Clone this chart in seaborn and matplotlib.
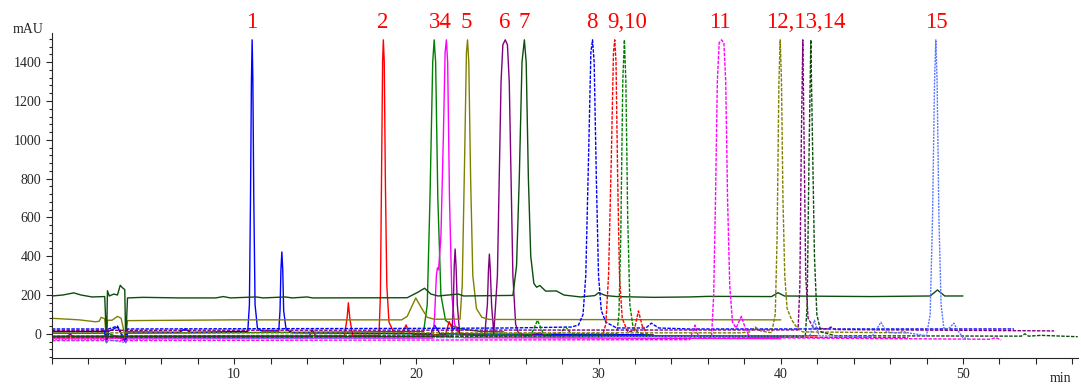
import numpy as np
import pandas as pd
import matplotlib
matplotlib.use("Agg")
import matplotlib.pyplot as plt
import seaborn as sns
from matplotlib.ticker import MultipleLocator

# --- chromatogram traces: retention time (min) / absorbance (mAU) vertices ---
t_dkgreen = [0, 0.6, 1.2, 1.6, 2.2, 2.9, 3.0, 3.05, 3.15, 3.4, 3.6, 3.75, 3.9, 4.0, 4.05, 4.15, 5, 7, 9,
             9.4, 9.8, 11.2, 11.6, 12.8, 13.2, 14.0, 14.3, 19.5, 20.1, 20.45, 20.8, 21.2, 22.3, 22.6,
             25.3, 25.5, 25.65, 25.8, 25.93, 26.03, 26.15, 26.28, 26.45, 26.6, 26.78, 27.1, 27.69, 28.1,
             29.0, 29.8, 30.0, 30.4, 31, 33, 35, 36, 39.5, 39.85, 40.2, 45, 48.2, 48.6, 49.0, 50]
y_dkgreen = [195, 200, 211, 200, 190, 192, -45, 222, 195, 205, 200, 250, 235, 228, -40, 185, 188, 185, 185,
             192, 185, 190, 185, 190, 185, 190, 185, 186, 215, 235, 205, 195, 205, 195,
             198, 350, 800, 1400, 1515, 1400, 800, 400, 260, 240, 249, 220, 221, 200,
             190, 197, 212, 197, 192, 188, 190, 193, 192, 212, 195, 192, 195, 226, 195, 195]

t_olive = [0, 1.5, 2.4, 2.6, 2.7, 2.9, 3.0, 3.05, 3.3, 3.6, 3.8, 4.05, 4.15, 10, 19.2, 19.5, 19.97,
           20.3, 20.6, 21, 22.4, 22.52, 22.65, 22.75, 22.81, 22.88, 22.98, 23.1, 23.3, 23.6, 24, 40]
y_olive = [80, 72, 62, 65, 85, 78, -40, 70, 70, 90, 80, -30, 68, 72, 72, 90, 185,
           130, 85, 75, 76, 250, 900, 1450, 1515, 1400, 800, 300, 130, 85, 74, 72]

t_blue = [0, 2.9, 3.0, 3.1, 3.6, 4.05, 4.15, 7.0, 7.3, 7.6, 10.75, 10.84, 10.9, 10.95, 10.99, 11.03,
          11.08, 11.15, 11.28, 11.5, 12.45, 12.52, 12.57, 12.62, 12.67, 12.72, 12.85, 13.2, 20.8, 21.0,
          21.3, 33]
y_blue = [12, 12, -45, 12, 35, -45, 10, 8, 25, 8, 12, 150, 700, 1300, 1515, 1300,
          700, 150, 30, 15, 15, 120, 330, 422, 330, 120, 25, 5, 0, 45,
          0, -5]

t_red = [0, 16.05, 16.2, 16.27, 16.35, 16.5, 17.95, 18.03, 18.09, 18.15, 18.19, 18.24, 18.3, 18.38,
         18.5, 18.8, 19.25, 19.44, 19.6, 20, 21.6, 21.8, 22.0, 22.2, 22.4, 24, 42]
y_red = [-12, -10, 80, 160, 80, -8, -8, 200, 800, 1400, 1515, 1400, 800, 250,
         60, 0, 5, 46, 5, -5, -5, 63, 20, 35, -5, -10, -10]

t_green = [0, 2.9, 3.0, 3.1, 4.05, 4.15, 20.4, 20.6, 20.75, 20.9, 20.98, 21.06, 21.18, 21.35, 21.6,
           22, 22.5, 23.5, 24.8]
y_green = [3, 3, -40, 3, -35, 3, 12, 150, 700, 1400, 1515, 1400, 700, 200, 70,
           40, 25, 12, 10]

t_magenta = [0, 20.9, 21.0, 21.1, 21.16, 21.22, 21.35, 21.48, 21.58, 21.65, 21.72, 21.82, 21.95,
             22.1, 22.3, 22.6, 40]
y_magenta = [-22, -22, 80, 300, 340, 330, 500, 1000, 1450, 1515, 1400, 700, 200,
             50, 0, -20, -25]

t_purple = [0, 0.8, 1.0, 1.2, 14.1, 14.3, 14.5, 21.95, 22.03, 22.08, 22.13, 22.18, 22.25, 22.38,
            23.75, 23.9, 23.96, 24.01, 24.06, 24.13, 24.25, 24.45, 24.55, 24.65, 24.75, 24.88,
            25.0, 25.1, 25.2, 25.3, 25.45, 25.6, 26, 26.8, 27, 40]
y_purple = [-15, -15, -2, -15, -15, 20, -15, -12, 150, 350, 437, 350, 150, 0,
            -10, 150, 330, 411, 330, 150, 0, 300, 800, 1300, 1490, 1515,
            1490, 1300, 800, 300, 50, 5, -10, 5, -10, -15]

t_blue_d = [0, 2.9, 3.0, 3.1, 3.6, 4.05, 4.15, 20, 25, 28.5, 28.9, 29.15, 29.3, 29.45, 29.58, 29.67,
            29.76, 29.88, 30.0, 30.15, 30.4, 31, 32.6, 32.9, 33.3, 35, 52.8]
y_blue_d = [25, 25, -40, 25, 40, -40, 25, 28, 30, 35, 45, 100, 300, 900, 1450, 1515,
            1400, 800, 300, 120, 60, 30, 30, 55, 30, 25, 25]

t_red_d = [0, 30.2, 30.4, 30.55, 30.7, 30.82, 30.89, 30.96, 31.05, 31.15, 31.3, 31.6, 31.95, 32.19,
           32.4, 32.7, 33.5, 47]
y_red_d = [-20, -15, 50, 300, 900, 1450, 1515, 1400, 800, 300, 80, 10, 15, 118,
           40, -5, -15, -20]

t_green_d = [0, 26.3, 26.65, 27.0, 27.9, 28.2, 28.5, 31.0, 31.12, 31.22, 31.33, 31.42, 31.5, 31.6,
             31.72, 31.9, 32.2, 33, 40]
y_green_d = [-12, -5, 70, -5, 5, 35, 0, 0, 100, 500, 1300, 1515, 1300, 600,
             150, 30, 5, -10, -12]

t_magenta_d = [0, 35.0, 35.3, 35.5, 36.2, 36.32, 36.42, 36.52, 36.62, 36.75, 36.88, 36.98, 37.08,
               37.2, 37.35, 37.55, 37.84, 38.05, 38.3, 51.5, 51.8, 52.1]
y_magenta_d = [-35, -30, 45, -20, -20, 200, 700, 1300, 1500, 1515, 1500, 1300, 700,
               250, 60, 30, 90, 30, -20, -28, -20, -32]

t_olive_d = [0, 37.8, 38.3, 38.6, 38.9, 39.5, 39.7, 39.8, 39.9, 39.97, 40.04, 40.12, 40.22, 40.35,
             40.6, 40.9, 41.2, 47]
y_olive_d = [5, 5, 10, 35, 15, 5, 100, 500, 1300, 1515, 1300, 700, 300, 130,
             72, 30, 10, 5]

t_purple_d = [0, 40.95, 41.05, 41.13, 41.21, 41.28, 41.37, 41.5, 41.8, 42.6, 42.75, 43.0, 55]
y_purple_d = [18, 20, 250, 1000, 1515, 1000, 300, 80, 30, 25, 35, 22, 15]

t_dkgreen_d = [0, 41.35, 41.45, 41.55, 41.65, 41.74, 41.85, 41.98, 42.2, 43, 53.2, 53.4, 53.6,
               54.3, 56.3]
y_dkgreen_d = [-15, -12, 150, 900, 1515, 1000, 400, 100, 10, -10, -12, 0, -12,
               -8, -15]

t_ltblue = [0, 2.9, 3.0, 3.1, 4.05, 4.15, 41.6, 41.85, 42.1, 45.0, 45.5, 45.8, 46.4, 46.7, 47.0,
            48.0, 48.2, 48.33, 48.44, 48.51, 48.58, 48.68, 48.8, 48.95, 49.2, 49.5, 49.7, 50.0, 50.3]
y_ltblue = [-30, -30, -45, -30, -45, -28, -10, 70, -10, -15, 60, 10, 5, 12, 5,
            -10, 100, 600, 1300, 1515, 1300, 600, 150, 30, 25, 55, 20, -20, -25]

peak_labels = ["1", "2", "34", "5", "6", "7", "8", "9,10", "11", "12,13,14", "15"]
label_times = [10.99, 18.18, 21.3, 22.75, 24.85, 25.93, 29.65, 31.55, 36.65, 41.4, 48.55]

traces = [
    (t_green, y_green, "#008000", "-"),
    (t_red, y_red, "#ff0000", "-"),
    (t_blue, y_blue, "#0000ff", "-"),
    (t_magenta, y_magenta, "#ff00ff", "-"),
    (t_purple, y_purple, "#800080", "-"),
    (t_olive, y_olive, "#808000", "-"),
    (t_dkgreen, y_dkgreen, "#0d4d0d", "-"),
    (t_blue_d, y_blue_d, "#0000ff", (0, (2.5, 1))),
    (t_red_d, y_red_d, "#ff0000", (0, (2.5, 1))),
    (t_green_d, y_green_d, "#008000", (0, (2.5, 1))),
    (t_magenta_d, y_magenta_d, "#ff00ff", (0, (2.5, 1))),
    (t_olive_d, y_olive_d, "#808000", (0, (2.5, 1))),
    (t_purple_d, y_purple_d, "#800080", (0, (2.5, 1))),
    (t_dkgreen_d, y_dkgreen_d, "#0d4d0d", (0, (2.5, 1))),
    (t_ltblue, y_ltblue, "#5a78ff", (0, (1.5, 0.8))),
]

sns.set_style("ticks")
plt.rcParams['font.family'] = ['Liberation Serif', 'DejaVu Serif']

fig = plt.figure(figsize=(10.81, 3.89), dpi=100)
ax = fig.add_axes([0.048, 0.08, 0.949, 0.835])

for t, y, c, ls in traces:
    df = pd.DataFrame({"t": t, "y": y})
    sns.lineplot(data=df, x="t", y="y", color=c, linestyle=ls, lw=1.0,
                 estimator=None, sort=False, ax=ax)

ax.set_xlim(0, 56.3)
ax.set_ylim(-124, 1550)
ax.set_xticks([10, 20, 30, 40, 50])
ax.xaxis.set_minor_locator(MultipleLocator(2))
ax.set_yticks(np.arange(0, 1401, 200))
ax.yaxis.set_minor_locator(MultipleLocator(40))
ax.tick_params(axis="both", which="major", labelsize=10, length=4, width=0.8, direction="out")
ax.tick_params(axis="x", which="minor", length=4, width=0.8)
ax.tick_params(axis="y", which="minor", length=2.5, width=0.8)
ax.set_xlabel("")
ax.set_ylabel("")
sns.despine(ax=ax)

for lab, tt in zip(peak_labels, label_times):
    ax.text(tt, 1606, lab, color="red", fontsize=16.5, ha="center", va="center", clip_on=False)

fig.text(0.040, 0.925, "mAU", ha="right", va="center", fontsize=10)
fig.text(0.981, 0.028, "min", ha="center", va="center", fontsize=10)

plt.savefig("out.png", dpi=100)
plt.close()
